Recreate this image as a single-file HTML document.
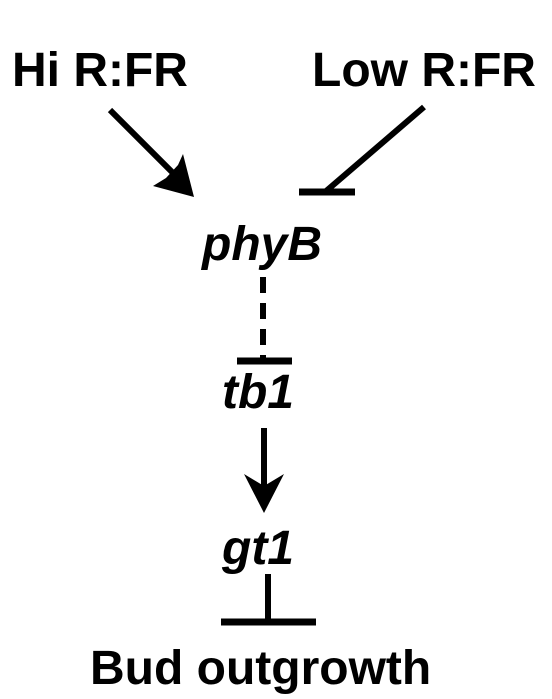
<!DOCTYPE html>
<html><head><style>
html,body{margin:0;padding:0;background:#fff;}
svg{display:block;}
text{font-family:"Liberation Sans",sans-serif;font-weight:bold;font-size:48px;fill:#000;}
</style></head><body>
<svg width="552" height="699" viewBox="0 0 552 699" xmlns="http://www.w3.org/2000/svg">
<text x="12" y="86">Hi R:FR</text>
<text x="312" y="86">Low R:FR</text>
<line x1="110" y1="110" x2="180" y2="180" stroke="#000" stroke-width="6"/>
<polygon points="194,197 153,186 166,178 178,165 183,154" fill="#000"/>
<line x1="424" y1="107" x2="325" y2="192" stroke="#000" stroke-width="6"/>
<line x1="299" y1="192" x2="355" y2="192" stroke="#000" stroke-width="7"/>
<text x="262" y="260" text-anchor="middle" font-style="italic">phyB</text>
<line x1="263" y1="277" x2="263" y2="359" stroke="#000" stroke-width="6" stroke-dasharray="16,10"/>
<line x1="237" y1="361" x2="292" y2="361" stroke="#000" stroke-width="7"/>
<text x="258" y="408" text-anchor="middle" font-style="italic">tb1</text>
<line x1="264" y1="428" x2="264" y2="490" stroke="#000" stroke-width="6"/>
<polygon points="264,513 244,474 264,486 284,474" fill="#000"/>
<text x="258" y="564" text-anchor="middle" font-style="italic">gt1</text>
<line x1="268" y1="574" x2="268" y2="622" stroke="#000" stroke-width="6"/>
<line x1="221" y1="622" x2="316" y2="622" stroke="#000" stroke-width="7"/>
<text x="90" y="684">Bud outgrowth</text>
</svg>
</body></html>
